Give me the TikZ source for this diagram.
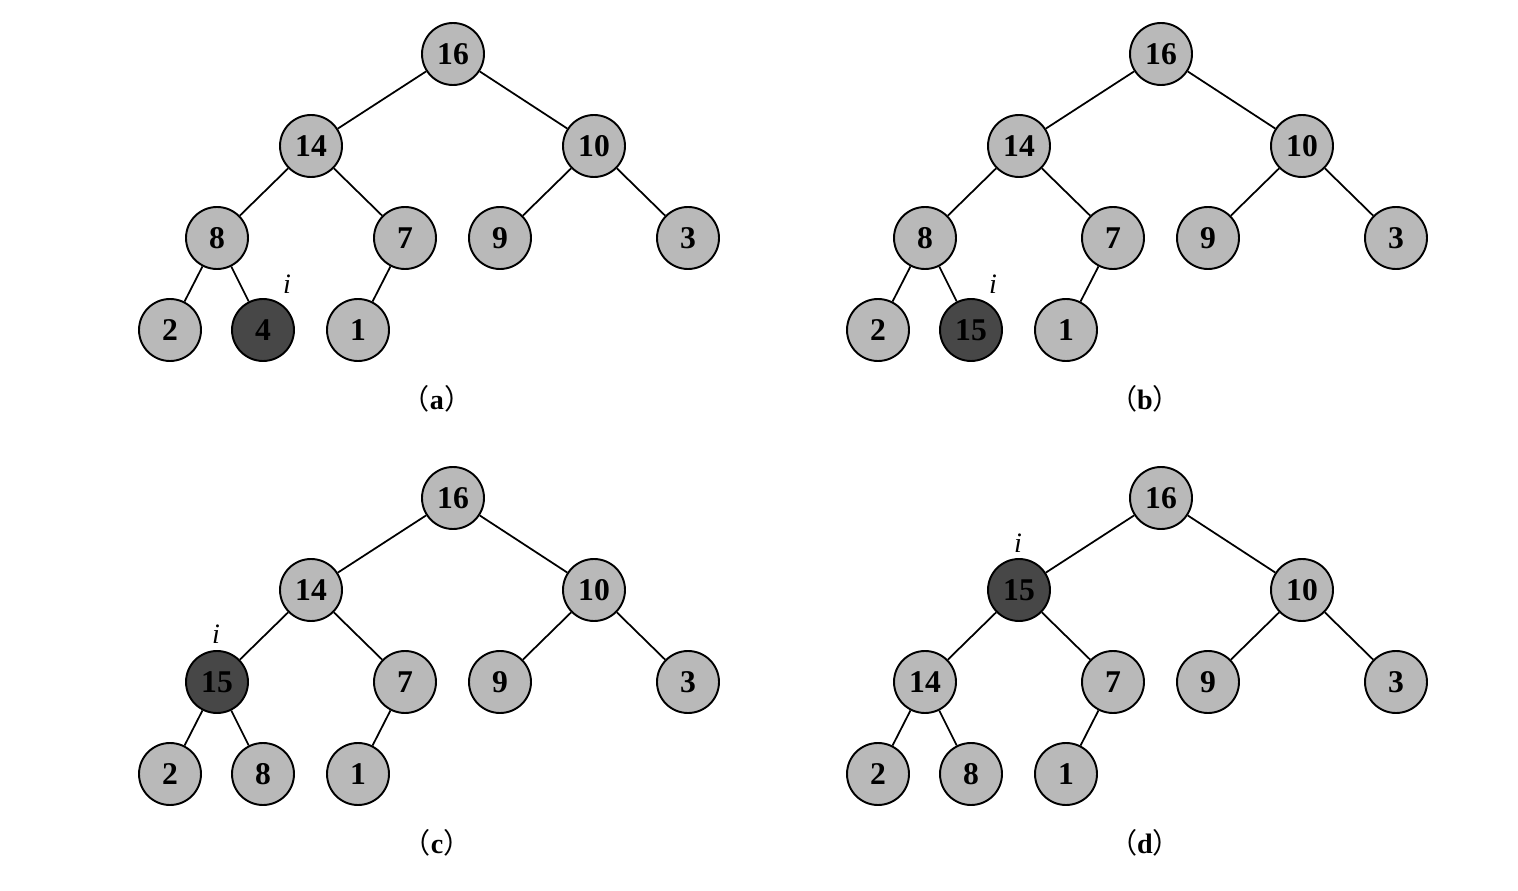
\documentclass[tikz,border=0pt]{standalone}
\usepackage{fontspec}
\setmainfont{Liberation Serif}
\newfontfamily\cjk{Noto Sans CJK SC}
\usetikzlibrary{positioning}

\begin{document}
\begin{tikzpicture}[
  key/.style={circle, draw, line width=1.1pt, fill=gray!55, minimum size=1.24cm,
              inner sep=0pt, font=\fontsize{18}{20}\selectfont\bfseries},
  hot/.style={key, fill=black!72},
  edge/.style={line width=1pt},
  ilabel/.style={font=\fontsize{16}{18}\selectfont\itshape},
  caption/.style={font=\fontsize{16}{18}\selectfont},
]
\useasboundingbox (0,0) rectangle (30.36,-17.82);

% (a) node i = 4
\begin{scope}[shift={(9.06,-1.08)}]
\node[key] (a16) at (0,0) {16};
\node[key] (a14) at (-2.84,-1.84) {14};
\node[key] (a10) at (2.82,-1.84) {10};
\node[key] (a8) at (-4.72,-3.68) {8};
\node[key] (a7) at (-0.96,-3.68) {7};
\node[key] (a9) at (0.94,-3.68) {9};
\node[key] (a3) at (4.70,-3.68) {3};
\node[key] (a2) at (-5.66,-5.52) {2};
\node[hot] (a4) at (-3.80,-5.52) {4};
\node[key] (a1) at (-1.90,-5.52) {1};
\node[ilabel] (ia) at (-3.32,-4.60) {i};
\node[caption] (capa) at (-0.32,-6.90) {{\cjk （}\textbf{a}{\cjk ）}};
\end{scope}
\draw[edge] (a16) -- (a14);
\draw[edge] (a16) -- (a10);
\draw[edge] (a14) -- (a8);
\draw[edge] (a14) -- (a7);
\draw[edge] (a10) -- (a9);
\draw[edge] (a10) -- (a3);
\draw[edge] (a8) -- (a2);
\draw[edge] (a8) -- (a4);
\draw[edge] (a7) -- (a1);

% (b) node i = 15
\begin{scope}[shift={(23.22,-1.08)}]
\node[key] (b16) at (0,0) {16};
\node[key] (b14) at (-2.84,-1.84) {14};
\node[key] (b10) at (2.82,-1.84) {10};
\node[key] (b8) at (-4.72,-3.68) {8};
\node[key] (b7) at (-0.96,-3.68) {7};
\node[key] (b9) at (0.94,-3.68) {9};
\node[key] (b3) at (4.70,-3.68) {3};
\node[key] (b2) at (-5.66,-5.52) {2};
\node[hot] (b15) at (-3.80,-5.52) {15};
\node[key] (b1) at (-1.90,-5.52) {1};
\node[ilabel] (ib) at (-3.36,-4.60) {i};
\node[caption] (capb) at (-0.32,-6.90) {{\cjk （}\textbf{b}{\cjk ）}};
\end{scope}
\draw[edge] (b16) -- (b14);
\draw[edge] (b16) -- (b10);
\draw[edge] (b14) -- (b8);
\draw[edge] (b14) -- (b7);
\draw[edge] (b10) -- (b9);
\draw[edge] (b10) -- (b3);
\draw[edge] (b8) -- (b2);
\draw[edge] (b8) -- (b15);
\draw[edge] (b7) -- (b1);

% (c) 15 moved up one level
\begin{scope}[shift={(9.06,-9.96)}]
\node[key] (c16) at (0,0) {16};
\node[key] (c14) at (-2.84,-1.84) {14};
\node[key] (c10) at (2.82,-1.84) {10};
\node[hot] (c15) at (-4.72,-3.68) {15};
\node[key] (c7) at (-0.96,-3.68) {7};
\node[key] (c9) at (0.94,-3.68) {9};
\node[key] (c3) at (4.70,-3.68) {3};
\node[key] (c2) at (-5.66,-5.52) {2};
\node[key] (c8) at (-3.80,-5.52) {8};
\node[key] (c1) at (-1.90,-5.52) {1};
\node[ilabel] (ic) at (-4.74,-2.72) {i};
\node[caption] (capc) at (-0.32,-6.90) {{\cjk （}\textbf{c}{\cjk ）}};
\end{scope}
\draw[edge] (c16) -- (c14);
\draw[edge] (c16) -- (c10);
\draw[edge] (c14) -- (c15);
\draw[edge] (c14) -- (c7);
\draw[edge] (c10) -- (c9);
\draw[edge] (c10) -- (c3);
\draw[edge] (c15) -- (c2);
\draw[edge] (c15) -- (c8);
\draw[edge] (c7) -- (c1);

% (d) 15 below the root
\begin{scope}[shift={(23.22,-9.96)}]
\node[key] (d16) at (0,0) {16};
\node[hot] (d15) at (-2.84,-1.84) {15};
\node[key] (d10) at (2.82,-1.84) {10};
\node[key] (d14) at (-4.72,-3.68) {14};
\node[key] (d7) at (-0.96,-3.68) {7};
\node[key] (d9) at (0.94,-3.68) {9};
\node[key] (d3) at (4.70,-3.68) {3};
\node[key] (d2) at (-5.66,-5.52) {2};
\node[key] (d8) at (-3.80,-5.52) {8};
\node[key] (d1) at (-1.90,-5.52) {1};
\node[ilabel] (id) at (-2.86,-0.90) {i};
\node[caption] (capd) at (-0.32,-6.90) {{\cjk （}\textbf{d}{\cjk ）}};
\end{scope}
\draw[edge] (d16) -- (d15);
\draw[edge] (d16) -- (d10);
\draw[edge] (d15) -- (d14);
\draw[edge] (d15) -- (d7);
\draw[edge] (d10) -- (d9);
\draw[edge] (d10) -- (d3);
\draw[edge] (d14) -- (d2);
\draw[edge] (d14) -- (d8);
\draw[edge] (d7) -- (d1);

\end{tikzpicture}
\end{document}
